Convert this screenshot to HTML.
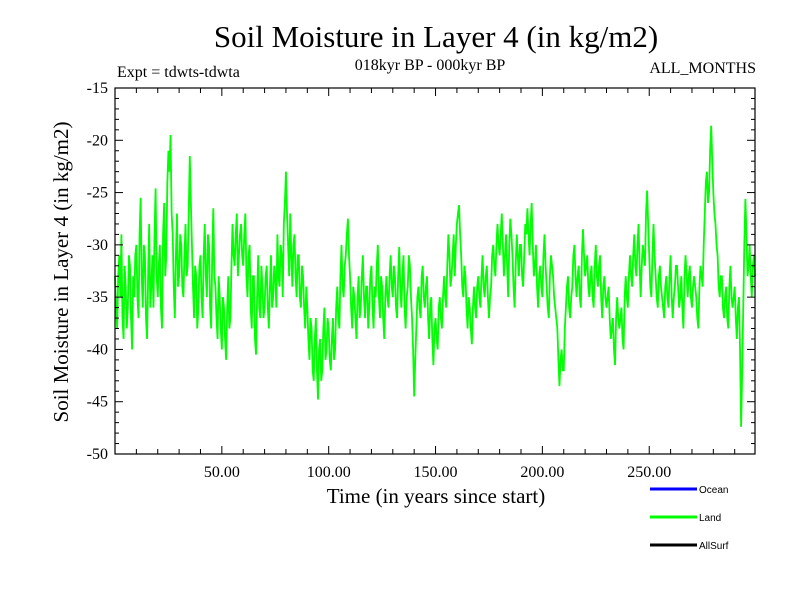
<!DOCTYPE html>
<html><head><meta charset="utf-8"><style>
body{margin:0;background:#fff;width:800px;height:600px;overflow:hidden}
svg text{font-family:"Liberation Serif",serif;fill:#000}
</style></head><body>
<svg id="chart" width="800" height="600" xmlns="http://www.w3.org/2000/svg">
<rect width="800" height="600" fill="#fff"/>
<text x="436" y="47" font-size="31" text-anchor="middle">Soil Moisture in Layer 4 (in kg/m2)</text>
<text x="117" y="77" font-size="16">Expt = tdwts-tdwta</text>
<text x="430" y="70" font-size="16" text-anchor="middle">018kyr BP - 000kyr BP</text>
<text x="756" y="73" font-size="16" text-anchor="end">ALL_MONTHS</text>
<text transform="translate(68,272) rotate(-90)" font-size="21" text-anchor="middle">Soil Moisture in Layer 4 (in kg/m2)</text>
<text x="436" y="503" font-size="21" text-anchor="middle">Time (in years since start)</text>
<g id="plot"></g>
<g id="axes"></g>
<g>
<line x1="650" y1="489" x2="697" y2="489" stroke="#0000ff" stroke-width="3"/>
<text x="699" y="493" font-size="10" style="font-family:'Liberation Sans',sans-serif">Ocean</text>
<line x1="650" y1="517" x2="697" y2="517" stroke="#00ff00" stroke-width="3"/>
<text x="699" y="521" font-size="10" style="font-family:'Liberation Sans',sans-serif">Land</text>
<line x1="650" y1="545" x2="697" y2="545" stroke="#000" stroke-width="3"/>
<text x="699" y="549" font-size="10" style="font-family:'Liberation Sans',sans-serif">AllSurf</text>
</g>
</svg>
<script>
const landValues = [
-33,-38,-31,-29,-39,-34,-36,-32,-40,-35,
-30,-37,-25.5,-36,-31,-39,-28,-34,-36,-24.6,
-35,-30,-38,-26,-31,-21,-19.5,-29,-37,-27,
-33,-30,-35,-28,-32,-21.5,-30,-37,-33,-36,
-31,-37,-28,-35,-30,-38,-26.5,-34,-39,-35,
-40,-36,-41,-33,-37,-28,-32,-27,-31,-28,
-32,-27,-35,-30,-38,-33,-40.5,-31,-37,-34,
-36,-32,-38,-31,-35,-33,-29,-34,-31,-28,
-23,-30,-27,-34,-29,-35,-31,-36,-33,-38,
-36,-41,-38,-43,-37,-44.8,-39,-42,-36,-40,
-38,-42,-37,-40,-34,-38,-30,-35,-31,-27.5,
-33,-38,-35,-39,-33,-36,-31,-37,-34,-36,
-32,-38,-35,-30,-37,-34,-39,-33,-36,-31,
-35,-33,-37,-30.2,-36,-31,-38,-34,-32,-37,
-44.5,-38,-34,-37,-32,-36,-33,-39,-35,-41.5,
-37,-40,-35,-38,-33,-36,-29,-34,-31,-33,
-28,-26.2,-31,-35,-33,-38,-36,-39.5,-34,-37,
-33,-36,-31,-35,-32,-37,-34,-30,-33,-28,
-31,-27,-33,-29,-35,-27.5,-31,-36,-29,-33,
-30,-34,-28,-26.5,-31,-26,-33,-30,-36,-32,
-35,-29,-34,-37,-31,-33,-36,-38,-43.5,-40,
-42,-36,-33,-37,-34,-30,-35,-32,-36,-28.5,
-33,-31,-35,-32,-36,-30,-34,-31,-37,-33,
-36,-34,-39,-37,-41.5,-35,-38,-36,-40,-33,
-36,-31,-34,-29,-33,-28,-35,-30,-32,-24.8,
-31,-35,-28,-33,-36,-32,-35,-37,-33,-36,
-31,-37,-34,-32,-36,-33,-38,-31,-35,-32,
-36,-33,-35,-38,-32,-34,-27,-23,-25,-18.6,
-25,-28,-31,-35,-33,-37,-34,-38,-32,-36,
-34,-39,-35,-47.4,-36,-25.6,-33,-30,-35,-31
];
const landMidYearValues = [
-36,-33,-35,-37,-32,-38,-31,-37,-33,-31,
-35,-29,-33,-30,-37,-33,-36,-31,-29,-33,
-32,-36,-29,-33,-24,-23,-27,-34,-31,-34,
-29,-34,-31,-33,-27,-26,-34,-32,-38,-32,
-35,-31,-33,-29,-36,-31,-33,-37,-33,-38,
-35,-39,-36,-38,-32,-31,-29,-33,-29,-31,
-29,-33,-31,-36,-33,-39,-35,-36,-32,-37,
-33,-36,-34,-36,-32,-36,-33,-30,-35,-26,
-27,-33,-31,-30,-33,-31,-35,-32,-36,-34,
-39,-37,-42,-39,-42,-40,-43,-38,-41,-37,
-41,-39,-41,-36,-37,-33,-34,-32,-29,-31,
-36,-34,-37,-35,-37,-33,-35,-34,-38,-33,
-36,-34,-32,-35,-33,-37,-35,-35,-33,-34,
-32,-36,-33,-34,-33,-36,-35,-31,-35,-40,
-41,-35,-36,-33,-35,-34,-37,-36,-39,-38,
-39,-36,-37,-35,-35,-32,-31,-33,-29,-30,
-27,-29,-34,-32,-36,-35,-38,-36,-36,-34,
-35,-33,-34,-33,-35,-35,-31,-32,-30,-30,
-29,-30,-31,-32,-30,-29,-34,-32,-31,-30,
-33,-31,-29,-29,-28,-30,-32,-34,-33,-34,
-31,-32,-36,-33,-32,-35,-37,-41,-41,-42,
-38,-34,-36,-35,-31,-33,-33,-35,-31,-31,
-32,-34,-33,-35,-32,-33,-32,-35,-34,-35,
-35,-37,-38,-40,-37,-37,-37,-39,-35,-35,
-33,-33,-31,-32,-30,-32,-32,-31,-27,-28,
-34,-31,-31,-35,-33,-34,-36,-34,-35,-33,
-35,-35,-32,-34,-35,-36,-33,-33,-33,-35,
-34,-34,-37,-34,-33,-30,-24,-26,-21,-22,
-27,-30,-34,-33,-36,-35,-37,-34,-35,-35,
-37,-36,-40,-42,-30,-29,-32,-33,-32,-33
];
const xTickValues = [50,100,150,200,250];
const xTickLabels = ["50.00","100.00","150.00","200.00","250.00"];
const yTickValues = [-15,-20,-25,-30,-35,-40,-45,-50];
const yTickLabels = ["-15","-20","-25","-30","-35","-40","-45","-50"];

const L=115,R=755,T=88,B=454, X0=0,X1=299.5, Y0=-50,Y1=-15;
const xs=t=>L+(t-X0)/(X1-X0)*(R-L);
const ys=v=>B-(v-Y0)/(Y1-Y0)*(B-T);
const NS="http://www.w3.org/2000/svg";
const plot=document.getElementById('plot'), axes=document.getElementById('axes');

const ptsArr=[];
landValues.forEach((v,i)=>{
  ptsArr.push(xs(i).toFixed(2)+','+ys(v).toFixed(2));
  if(i<landMidYearValues.length) ptsArr.push(xs(i+0.5).toFixed(2)+','+ys(landMidYearValues[i]).toFixed(2));
});
const line=document.createElementNS(NS,'polyline');
line.setAttribute('points',ptsArr.join(' '));
line.setAttribute('fill','none');line.setAttribute('stroke','#00ff00');line.setAttribute('stroke-width','1.8');


plot.appendChild(line);

function ln(x1,y1,x2,y2,name){const l=document.createElementNS(NS,'line');
l.setAttribute('x1',x1);l.setAttribute('y1',y1);l.setAttribute('x2',x2);l.setAttribute('y2',y2);
l.setAttribute('stroke','#000');l.setAttribute('stroke-width','1');


axes.appendChild(l);}
const fr=document.createElementNS(NS,'rect');
fr.setAttribute('x',L);fr.setAttribute('y',T);fr.setAttribute('width',R-L);fr.setAttribute('height',B-T);
fr.setAttribute('fill','none');fr.setAttribute('stroke','#000');fr.setAttribute('stroke-width','1.2');


axes.appendChild(fr);
for(let t=10;t<X1;t+=10){const major=t%50===0;const h=major?8:5;const x=xs(t);
 ln(x,B,x,B-h,'x-tick');ln(x,T,x,T+h,'x-tick-top');}
for(let v=Y0+1;v<Y1;v++){const major=v%5===0;const h=major?8:4;const y=ys(v);
 ln(L,y,L+h,y,'y-tick');ln(R,y,R-h,y,'y-tick-right');}
function tx(x,y,s,anchor,name){const e=document.createElementNS(NS,'text');
 e.setAttribute('x',x);e.setAttribute('y',y);e.setAttribute('font-size','16');e.setAttribute('text-anchor',anchor);
 e.textContent=s;
 
 
 axes.appendChild(e);}
xTickValues.forEach((t,i)=>tx(xs(t),477,xTickLabels[i],'middle','x-tick-label'));
yTickValues.forEach((v,i)=>tx(108,ys(v)+5,yTickLabels[i],'end','y-tick-label'));
</script>
</body></html>
